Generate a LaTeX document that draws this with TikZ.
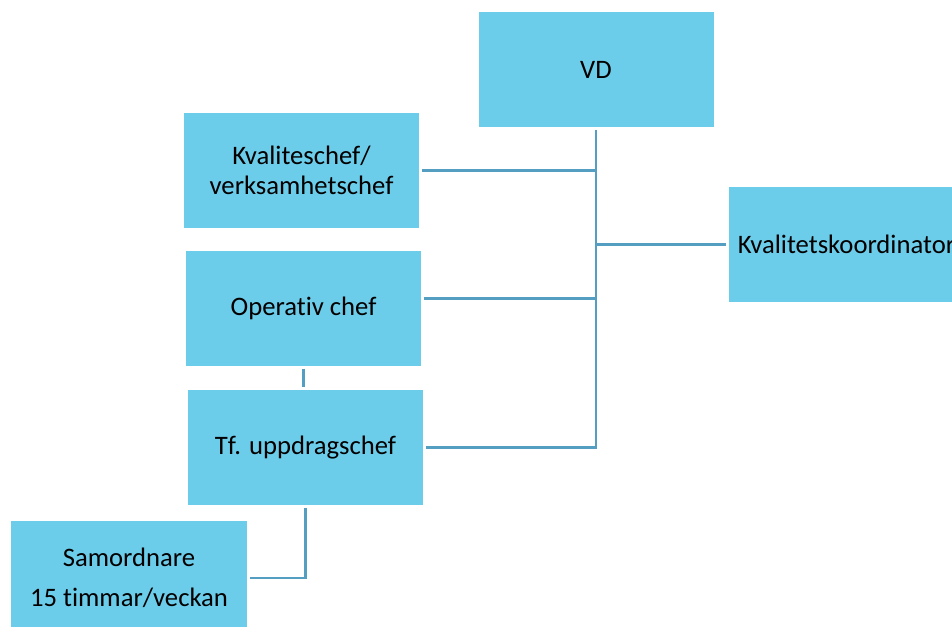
\documentclass[tikz,border=0pt]{standalone}
\usepackage{xcolor}
\usepackage{fontspec}
\setmainfont{Carlito}[Ligatures=NoCommon]
\usepackage{tikz}
\usetikzlibrary{calc}

\definecolor{boxblue}{RGB}{108,205,234}
\definecolor{linkblue}{RGB}{84,158,194}

\tikzset{
  orgbox/.style={fill=boxblue, draw=none, minimum width=176.25pt, minimum height=86.25pt,
    align=center, outer sep=2pt, font=\fontsize{20}{22.5}\selectfont},
  link/.style={draw=linkblue, line width=1.7pt}
}

\begin{document}
\begin{tikzpicture}[x=0.75pt,y=0.75pt,yscale=-1,xscale=1]
	\useasboundingbox (0,0) rectangle (952,627);
	\clip (0,0) rectangle (952,627);
	
	%Shape: Rectangle [VD]
	\node [orgbox] (vd) at (596,70) {VD};
	%Shape: Rectangle [Kvaliteschef]
	\node [orgbox] (kvc) at (301.5,170.5) {Kvaliteschef/\\verksamhetschef};
	%Shape: Rectangle [Operativ chef]
	\node [orgbox] (opc) at (303.5,308.5) {Operativ chef};
	%Shape: Rectangle [Tf. uppdragschef]
	\node [orgbox] (tfu) at (305.5,447.5) {Tf. uppdragschef};
	%Shape: Rectangle [Samordnare]
	\node [orgbox, minimum width=177pt, font=\fontsize{20}{30}\selectfont] (sam) at (129,578) {Samordnare\\15 timmar/veckan};
	%Shape: Rectangle [Kvalitetskoordinator]
	\node [orgbox] (kko) at (846.5,244.5) {Kvalitetskoordinator};
	
	%Straight Lines [spine]
	\draw [link] (vd.south) -- (tfu.east -| vd.south) -- (tfu.east);
	%Straight Lines [branches]
	\draw [link] (kvc.east) -- (kvc.east -| vd.south);
	\draw [link] ($(opc.east)+(0,-10)$) -- ($(opc.east -| vd.south)+(0,-10)$);
	\draw [link] (kko.west) -- (kko.west -| vd.south);
	%Straight Lines [lower chain]
	\draw [link] (opc.south) -- (opc.south |- tfu.north);
	\draw [link] (tfu.south) |- (sam.east);
	
\end{tikzpicture}
\end{document}
